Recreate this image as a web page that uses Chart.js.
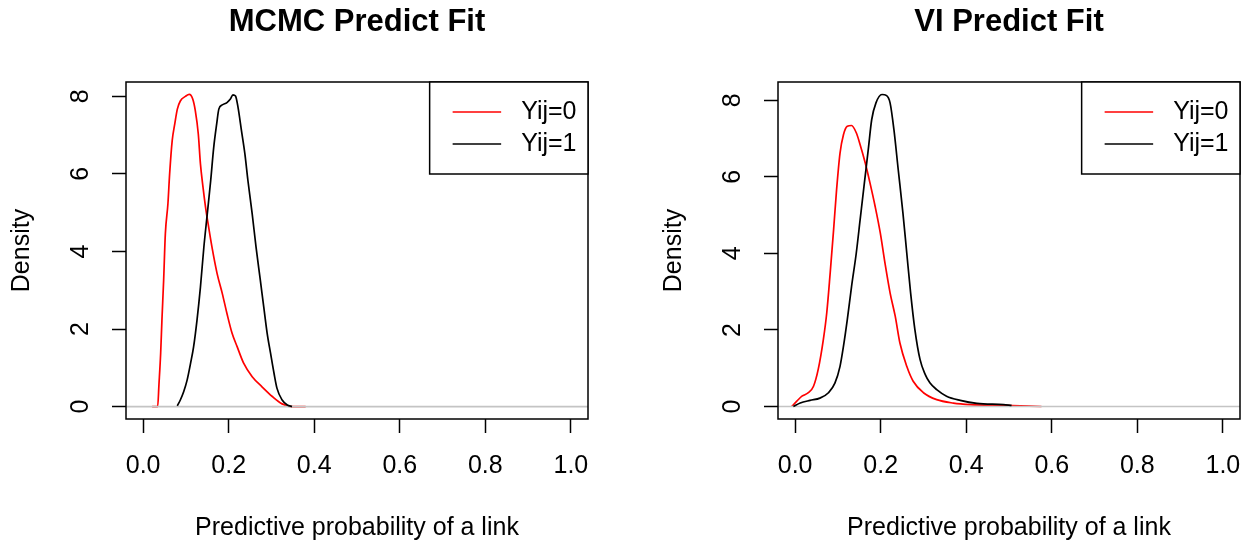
<!DOCTYPE html>
<html>
<head>
<meta charset="utf-8">
<script src="https://cdn.jsdelivr.net/npm/chart.js@4.4.1/dist/chart.umd.min.js"></script>
<style>
  html, body { margin: 0; padding: 0; background: #fff; }
  #wrap { position: relative; width: 1244px; height: 544px; overflow: hidden; background: #fff; }
  canvas { position: absolute; top: 0; }
  #mcmc { left: 0; }
  #vi { left: 652px; }
</style>
</head>
<body>
<div id="wrap">
  <canvas id="mcmc" width="640" height="544"></canvas>
  <canvas id="vi" width="592" height="544"></canvas>
</div>
<script>
// Axis ticks and labels
const xTicks = [0, 0.2, 0.4, 0.6, 0.8, 1.0];
const yTicks = [0, 2, 4, 6, 8];
const seriesLabels = ['Yij=0', 'Yij=1'];
const seriesColors = ['#ff0000', '#000000'];
const xLimits = [-0.04, 1.04];
const mcmcYLimits = [-0.32, 8.37];
const viYLimits = [-0.326, 8.476];

// MCMC posterior predictive densities
const mcmcX0 = [0.021, 0.034, 0.037, 0.041, 0.044, 0.048, 0.052, 0.058, 0.062, 0.068, 0.074, 0.080, 0.087, 0.099, 0.108, 0.116, 0.122, 0.129, 0.134, 0.140, 0.146, 0.152, 0.161, 0.173, 0.185, 0.196, 0.208, 0.220, 0.235, 0.255, 0.278, 0.302, 0.325, 0.348, 0.380];
const mcmcD0 = [0, 0, 0.56, 1.37, 2.23, 3.26, 4.46, 5.23, 6.0, 6.86, 7.29, 7.67, 7.88, 8.0, 8.05, 7.93, 7.63, 7.03, 6.26, 5.66, 5.14, 4.71, 4.11, 3.43, 2.92, 2.40, 1.89, 1.54, 1.12, 0.77, 0.51, 0.26, 0.07, 0, 0];
const mcmcX1 = [0.080, 0.087, 0.095, 0.103, 0.111, 0.118, 0.126, 0.134, 0.142, 0.150, 0.158, 0.165, 0.172, 0.177, 0.185, 0.196, 0.204, 0.210, 0.216, 0.222, 0.230, 0.238, 0.245, 0.255, 0.264, 0.274, 0.282, 0.290, 0.298, 0.306, 0.313, 0.325, 0.337, 0.348];
const mcmcD1 = [0.02, 0.17, 0.39, 0.69, 1.12, 1.54, 2.23, 3.08, 4.11, 4.97, 5.83, 6.68, 7.29, 7.67, 7.78, 7.84, 7.93, 8.04, 8.01, 7.71, 7.11, 6.51, 5.83, 4.97, 4.11, 3.26, 2.57, 1.89, 1.37, 0.86, 0.47, 0.17, 0.04, 0];

// VI posterior predictive densities
const viX0 = [-0.008, 0.004, 0.016, 0.031, 0.043, 0.054, 0.066, 0.074, 0.082, 0.090, 0.097, 0.105, 0.113, 0.122, 0.132, 0.143, 0.152, 0.164, 0.175, 0.187, 0.199, 0.210, 0.222, 0.234, 0.245, 0.261, 0.276, 0.300, 0.331, 0.370, 0.409, 0.487, 0.576];
const viD0 = [0, 0.14, 0.27, 0.36, 0.53, 0.97, 1.75, 2.45, 3.49, 4.62, 5.67, 6.62, 7.10, 7.32, 7.34, 7.15, 6.84, 6.36, 5.84, 5.23, 4.54, 3.75, 2.97, 2.36, 1.66, 1.05, 0.66, 0.36, 0.18, 0.09, 0.05, 0.03, 0];
const viX1 = [-0.004, 0.012, 0.035, 0.058, 0.078, 0.093, 0.105, 0.113, 0.122, 0.132, 0.143, 0.152, 0.161, 0.171, 0.179, 0.189, 0.203, 0.214, 0.222, 0.231, 0.241, 0.252, 0.261, 0.270, 0.280, 0.292, 0.304, 0.315, 0.331, 0.354, 0.386, 0.425, 0.487, 0.506];
const viD1 = [0, 0.09, 0.16, 0.22, 0.36, 0.61, 1.05, 1.57, 2.27, 3.14, 4.01, 4.88, 5.75, 6.71, 7.49, 7.93, 8.15, 8.12, 7.93, 7.23, 6.19, 5.06, 4.01, 2.97, 2.01, 1.23, 0.84, 0.62, 0.44, 0.27, 0.16, 0.08, 0.05, 0.03];

const FONT = "'Liberation Sans', Arial, Helvetica, sans-serif";
Chart.defaults.font.family = FONT;
Chart.defaults.color = '#000';

const pairs = (xs, ys) => xs.map((x, i) => ({ x: x, y: ys[i] }));

// Plot frame around the plotting region
const framePlugin = {
  id: 'frame',
  afterDatasetsDraw(chart) {
    const { ctx, chartArea: a } = chart;
    ctx.save();
    ctx.strokeStyle = '#000';
    ctx.lineWidth = 1.5;
    ctx.strokeRect(a.left, a.top, a.right - a.left, a.bottom - a.top);
    ctx.restore();
  }
};

// Boxed legend in the top-right corner of the plotting region
const boxLegendPlugin = {
  id: 'boxLegend',
  afterDatasetsDraw(chart) {
    const { ctx, chartArea: a } = chart;
    const items = chart.data.datasets.filter(d => d.inLegend);
    ctx.save();
    ctx.font = '25px ' + FONT;
    const textW = Math.max(...items.map(d => ctx.measureText(d.label).width));
    const inset = 23, seg = 48.5, gap = 20, tail = 11.5, rowH = 32, vpad = 30;
    const w = inset + seg + gap + textW + tail;
    const h = vpad * 2 + rowH * (items.length - 1);
    const x0 = a.right - w, y0 = a.top;
    ctx.fillStyle = '#fff';
    ctx.fillRect(x0, y0, w, h);
    ctx.strokeStyle = '#000';
    ctx.lineWidth = 1.5;
    ctx.strokeRect(x0, y0, w, h);
    items.forEach((d, i) => {
      const y = y0 + vpad + i * rowH;
      ctx.strokeStyle = d.borderColor;
      ctx.lineWidth = d.borderWidth;
      ctx.beginPath();
      ctx.moveTo(x0 + inset, y);
      ctx.lineTo(x0 + inset + seg, y);
      ctx.stroke();
      ctx.fillStyle = '#000';
      ctx.textAlign = 'left';
      ctx.textBaseline = 'middle';
      ctx.fillText(d.label, x0 + inset + seg + gap, y);
    });
    ctx.restore();
  }
};

function densityChart(id, title, x0, d0, x1, d1, yLim, padRight) {
  const curve = (label, color, xs, ds, order) => ({
    label: label,
    inLegend: true,
    data: pairs(xs, ds),
    borderColor: color,
    borderWidth: 1.7,
    pointRadius: 0,
    fill: false,
    tension: 0,
    cubicInterpolationMode: 'monotone',
    order: order
  });
  return new Chart(document.getElementById(id), {
    type: 'line',
    data: {
      datasets: [
        curve(seriesLabels[0], seriesColors[0], x0, d0, 2),
        {
          label: '',
          inLegend: false,
          data: [{ x: xLimits[0], y: 0 }, { x: xLimits[1], y: 0 }],
          borderColor: '#c4c4c4',
          borderWidth: 1.7,
          pointRadius: 0,
          order: 1
        },
        curve(seriesLabels[1], seriesColors[1], x1, d1, 0)
      ]
    },
    options: {
      responsive: false,
      animation: false,
      devicePixelRatio: 1,
      layout: { padding: { left: 0, right: padRight, top: 0, bottom: 0 } },
      plugins: {
        legend: { display: false },
        tooltip: { enabled: false },
        title: {
          display: true,
          text: title,
          fullSize: false,
          color: '#000',
          font: { family: FONT, size: 31, weight: 'bold' },
          padding: { top: 3.4, bottom: 41.4 }
        }
      },
      scales: {
        x: {
          type: 'linear',
          position: 'bottom',
          min: xLimits[0],
          max: xLimits[1],
          afterBuildTicks: s => { s.ticks = xTicks.map(v => ({ value: v })); },
          afterFit: s => { s.height = 125; s.paddingLeft = 0; s.paddingRight = 0; },
          grid: { display: true, drawOnChartArea: false, drawTicks: true, tickLength: 14, tickColor: '#000', tickWidth: 1.5, color: '#000' },
          border: { display: false },
          ticks: { autoSkip: false, maxRotation: 0, padding: 18, color: '#000', font: { size: 25 }, callback: v => Number(v).toFixed(1) },
          title: { display: true, text: 'Predictive probability of a link', color: '#000', font: { size: 25 }, padding: { top: 0, bottom: 1 } }
        },
        y: {
          type: 'linear',
          position: 'left',
          min: yLim[0],
          max: yLim[1],
          afterBuildTicks: s => { s.ticks = yTicks.map(v => ({ value: v })); },
          afterFit: s => { s.width = 126; s.paddingTop = 0; s.paddingBottom = 0; },
          grid: { display: true, drawOnChartArea: false, drawTicks: true, tickLength: 14, tickColor: '#000', tickWidth: 1.5, color: '#000' },
          border: { display: false },
          ticks: { autoSkip: false, minRotation: 90, maxRotation: 90, crossAlign: 'center', padding: 24, color: '#000', font: { size: 25 }, callback: v => String(v) },
          title: { display: true, text: 'Density', color: '#000', font: { size: 25 }, padding: { top: 7, bottom: 0 } }
        }
      }
    },
    plugins: [framePlugin, boxLegendPlugin]
  });
}

densityChart('mcmc', 'MCMC Predict Fit', mcmcX0, mcmcD0, mcmcX1, mcmcD1, mcmcYLimits, 52);
densityChart('vi', 'VI Predict Fit', viX0, viD0, viX1, viD1, viYLimits, 4);
</script>
</body>
</html>
